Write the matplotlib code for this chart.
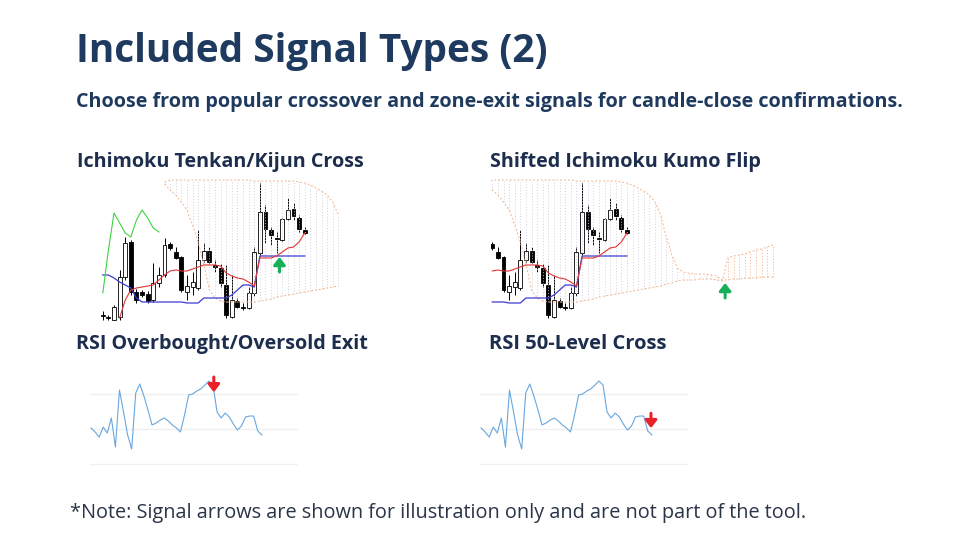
import matplotlib
matplotlib.use("Agg")
import matplotlib.pyplot as plt
import numpy as np

# ---------------- data ----------------
# candles (arbitrary price units)
c_open  = [15, 13, 10, 13, 53, 88, 38, 38, 36, 30, 47, 55, 86, 78, 73, 38, 43, 42, 70, 79,
           65, 62, 45, 13, 29, 23, 22, 37, 77, 118, 100, 92, 90, 111, 121, 112, 100]
c_high  = [19, 15, 25, 60, 93, 90, 41, 40, 39, 67, 63, 92, 88, 83, 74, 55, 58, 100, 87, 83,
           70, 66, 65, 55, 32, 27, 43, 83, 147, 125, 103, 98, 112, 132, 127, 115, 103]
c_low   = [10, 10, 10, 10, 50, 35, 27, 33, 27, 28, 43, 53, 80, 71, 38, 30, 35, 40, 68, 67,
           58, 43, 12, 12, 22, 20, 21, 34, 74, 87, 85, 77, 89, 110, 110, 98, 96]
c_close = [14, 12, 23, 53, 87, 38, 30, 35, 29, 47, 55, 85, 82, 72, 40, 44, 48, 70, 79, 68,
           63, 47, 15, 30, 23, 22, 37, 78, 118, 101, 95, 91, 111, 120, 114, 101, 97]

tenkan = [np.nan, np.nan, np.nan, 12, 30, 40, 42, 43, 44, 45, 50, 55, 59, 60, 59, 59, 61, 63,
          65, 65, 65, 64, 57, 54, 52, 51, 48, 44, 72, 72, 72, 74, 78, 82, 83, 88, 97]
kijun = [55, 55, 52, 48, 45, 42, 32, 28, 28, 28, 28, 28, 28, 28, 28, 27, 27, 27, 32, 32,
         32, 32, 32, 35, 40, 45, 45, 43, 74, 74, 74, 74, 74, 74, 74, 74, 74]
chikou = [37, 80, 117, 107, 97, 93, 110, 120, 112, 102, 98]

# cloud spans, starting at candle index 11 and projected ahead
cloud_start = 11
span_top = [148, 150, 150, 150, 150, 150, 150, 150, 150, 150, 150, 150, 150, 150, 150, 150,
            149, 149, 149, 149, 149, 149, 149, 149, 148, 147, 145, 142, 139, 135, 128, 115,
            93, 75, 62, 58, 57, 56, 56, 56, 55, 54, 50, 50, 51, 51, 52, 52, 52, 53, 53, 53]
span_bot = [146, 140, 135, 128, 120, 105, 88, 66, 40, 32, 29, 28, 28, 28, 28, 28, 28, 29,
            30, 31, 33, 34, 35, 36, 37, 38, 39, 40, 41, 42, 43, 44, 46, 47, 49, 50, 50, 50,
            51, 51, 51, 50, 49, 72, 74, 75, 76, 78, 80, 81, 83, 85]

# RSI series
rsi = [50.6, 48.3, 45.4, 51.1, 47.7, 56.3, 39.7, 72.3, 59.7, 46.6, 38.6, 70.6, 75.7, 68.9,
       60.9, 52.3, 53.4, 55.1, 56.3, 54.6, 52.3, 50.6, 48.3, 58.0, 69.4, 70.0, 71.7, 72.9,
       75.1, 77.4, 75.1, 59.7, 56.3, 59.1, 56.9, 52.9, 49.4, 51.7, 56.9, 57.4, 57.4, 48.9, 46.6]
rsi_levels = [30, 50, 70]

# signal arrows: (x, tail, tip)
sig_tk = (31.5, 58, 73)
sig_kumo = (53.5, 32, 47)
sig_ob = (30.2, 79.7, 71.0)
sig_50 = (41.8, 59.0, 50.5)

title = "Included Signal Types (2)"
subtitle = "Choose from popular crossover and zone-exit signals for candle-close confirmations."
panel_titles = ["Ichimoku Tenkan/Kijun Cross", "Shifted Ichimoku Kumo Flip",
                "RSI Overbought/Oversold Exit", "RSI 50-Level Cross"]
note = "*Note: Signal arrows are shown for illustration only and are not part of the tool."

# ---------------- figure ----------------
W, H = 960, 540
fig = plt.figure(figsize=(9.6, 5.4), dpi=100)
fig.patch.set_facecolor("white")

NAVY = "#1f3a5f"
FONT = ["Open Sans", "DejaVu Sans"]

def px_axes(x0, y_top, w, h):
    return fig.add_axes([x0 / W, 1 - (y_top + h) / H, w / W, h / H])

def clean(ax):
    ax.set_axis_off()
    ax.patch.set_alpha(0)

idx = np.arange(len(c_open))
o = np.array(c_open, float); hi = np.array(c_high, float)
lo = np.array(c_low, float); cl = np.array(c_close, float)
cidx = np.arange(cloud_start, cloud_start + len(span_top))
top = np.array(span_top, float); bot = np.array(span_bot, float)

def draw_ichimoku(ax, first, last_cloud, show_chikou):
    sel = idx >= first
    ax.vlines(idx[sel], lo[sel], hi[sel], color="black", lw=0.7, zorder=2)
    up = sel & (cl >= o)
    dn = sel & (cl < o)
    hgt = np.where(np.abs(cl - o) < 1, 1, cl - o)
    ax.bar(idx[up], hgt[up], bottom=o[up], width=0.7, color="white",
           edgecolor="black", linewidth=0.6, zorder=2.5)
    ax.bar(idx[dn], hgt[dn], bottom=o[dn], width=0.7, color="black",
           edgecolor="black", linewidth=0.6, zorder=2.5)
    cs = cidx <= last_cloud
    xs, t, b = cidx[cs], top[cs], bot[cs]
    bear = t >= b
    ax.vlines(xs[bear], b[bear], t[bear], color="#cfc8da", lw=0.6,
              linestyles=(0, (1.2, 2.2)), zorder=3)
    ax.vlines(xs[~bear], t[~bear], b[~bear], color="#f2b48a", lw=0.6,
              linestyles=(0, (1.5, 2.0)), zorder=3)
    ax.plot(xs, t, color="#f2b48a", lw=0.7, ls=(0, (2, 2)), zorder=3)
    ax.plot(xs, b, color="#f2b48a", lw=0.7, ls=(0, (2, 2)), zorder=3)
    ten = np.array(tenkan, float); kij = np.array(kijun, float)
    ax.plot(idx[sel], kij[sel], color="#3b3bd0", lw=0.9, zorder=4)
    ax.plot(idx[sel], ten[sel], color="#e23535", lw=0.8, zorder=4)
    if show_chikou:
        ax.plot(np.arange(len(chikou)), chikou, color="#3fd43f", lw=0.8, zorder=4)

def arrow(ax, sig, color):
    x, tail, tip = sig
    ax.annotate("", xy=(x, tip), xytext=(x, tail),
                arrowprops=dict(arrowstyle="-|>,head_width=0.35,head_length=0.45",
                                lw=2.2, color=color, shrinkA=0, shrinkB=0), zorder=6)

# chart 1
ax1 = px_axes(100, 178, 244, 144)
ax1.set_xlim(-0.5, 43); ax1.set_ylim(8, 152)
draw_ichimoku(ax1, 0, 42, True)
arrow(ax1, sig_tk, "#16b05a")
clean(ax1)

# chart 2
ax2 = px_axes(490.6, 178, 285.6, 144)
ax2.set_xlim(11.7, 62.6); ax2.set_ylim(8, 152)
draw_ichimoku(ax2, 12, 62, False)
arrow(ax2, sig_kumo, "#16b05a")
clean(ax2)

def draw_rsi(ax, sig):
    ax.set_xlim(-0.25, 50.9); ax.set_ylim(25, 85)
    for lv in rsi_levels:
        ax.axhline(lv, color="#efefef", lw=0.9, zorder=1)
    ax.plot(np.arange(len(rsi)), rsi, color="#69a7df", lw=0.8, zorder=3)
    arrow(ax, sig, "#e8212b")
    clean(ax)

ax3 = px_axes(90, 367.75, 208, 105)
draw_rsi(ax3, sig_ob)
ax4 = px_axes(480, 367.75, 208, 105)
draw_rsi(ax4, sig_50)

# ---------------- text ----------------
texts = []
def put(x, y, s, size, weight, color, target_w):
    t = fig.text(x / W, 1 - y / H, s, fontsize=size, fontweight=weight, color=color,
                 family=FONT, ha="left", va="baseline")
    texts.append((t, target_w))
    return t

put(76, 62, title, 28, "bold", NAVY, 472)
put(76, 107, subtitle, 12.5, "bold", NAVY, 826)
put(77, 167, panel_titles[0], 12.5, "bold", "#1d2d4d", 287)
put(490, 167, panel_titles[1], 12.5, "bold", "#1d2d4d", 272)
put(76, 349, panel_titles[2], 12.5, "bold", "#1d2d4d", 292)
put(489, 349, panel_titles[3], 12.5, "bold", "#1d2d4d", 177)
put(70, 518, note, 12, "normal", "#2a3547", 730)

fig.canvas.draw()
r = fig.canvas.get_renderer()
for t, tw in texts:
    bb = t.get_window_extent(r)
    t.set_fontsize(t.get_fontsize() * tw / bb.width)

fig.savefig("out.png", dpi=100, facecolor="white")
